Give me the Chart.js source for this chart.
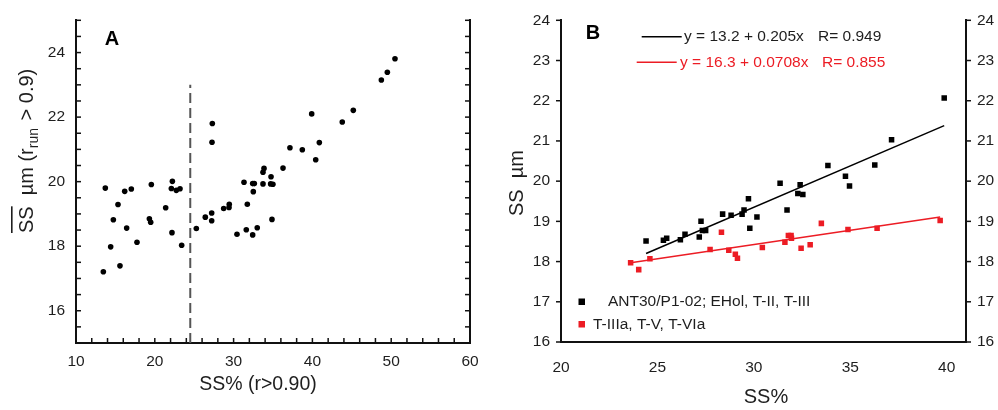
<!DOCTYPE html>
<html><head><meta charset="utf-8">
<script src="https://cdn.jsdelivr.net/npm/chart.js@4/dist/chart.umd.min.js"></script>
<style>
html,body{margin:0;padding:0;background:#fff;}
#wrap{position:relative;width:998px;height:410px;overflow:hidden;}
#ca{position:absolute;left:0;top:0;}
#cb{position:absolute;left:500px;top:0;}
</style></head><body>
<div id="wrap"><canvas id="ca" width="500" height="410"></canvas><canvas id="cb" width="498" height="410"></canvas></div>
<script>
// ---------- Panel A data ----------
const aX = [13.72,13.47,14.40,14.74,15.33,15.58,16.18,16.43,17.02,17.74,19.31,19.48,19.56,21.38,22.23,22.10,22.18,22.73,23.20,23.41,
            25.27,26.41,27.22,27.22,27.30,27.26,28.74,29.42,29.45,30.43,31.32,31.61,31.74,32.42,32.63,32.50,32.42,33.00,33.73,33.73,
            33.86,34.70,34.99,34.75,34.87,36.27,37.15,38.72,39.91,40.42,40.88,43.79,45.19,48.75,49.51,50.48];
const aY = [19.80,17.21,17.98,18.82,19.29,17.39,19.70,18.56,19.77,18.12,18.85,18.74,19.91,19.19,20.01,19.79,18.42,19.73,19.78,18.03,
            18.55,18.90,19.03,18.79,21.80,21.22,19.17,19.20,19.30,18.37,19.98,18.51,19.30,19.94,19.94,19.69,18.35,18.57,19.93,20.29,
            20.41,19.93,19.92,20.15,18.83,20.42,21.05,20.99,22.10,20.68,21.21,21.85,22.21,23.15,23.39,23.81];
const aDividerX = [24.5, 24.5];
const aDividerY = [15, 23];
const aXTicks = [10,20,30,40,50,60];
const aYTicks = [16,18,20,22,24];

// ---------- Panel B data ----------
const bBlackX = [24.41,25.31,25.48,26.19,26.43,27.17,27.26,27.33,27.50,28.38,28.82,29.39,29.49,29.72,29.79,30.16,31.36,31.72,32.28,32.40,32.54,33.84,34.75,34.96,36.27,37.14,39.87];
const bBlackY = [18.51,18.53,18.58,18.54,18.68,18.61,19.00,18.77,18.77,19.18,19.15,19.18,19.28,19.56,18.83,19.11,19.95,19.28,19.69,19.91,19.67,20.39,20.12,19.88,20.40,21.03,22.07];
const bRedX = [23.61,24.03,24.61,27.73,28.32,28.70,29.04,29.15,30.44,31.61,31.79,31.93,31.95,32.45,32.92,33.50,34.88,36.39,39.66];
const bRedY = [17.97,17.80,18.07,18.30,18.73,18.28,18.18,18.08,18.35,18.48,18.65,18.65,18.58,18.33,18.42,18.95,18.80,18.83,19.02];
const bBlackFitX = [24.41, 39.87];
const bBlackFitY = [18.20, 21.38];
const bRedFitX = [23.61, 39.66];
const bRedFitY = [17.97, 19.11];
const bXTicks = [20,25,30,35,40];
const bYTicks = [16,17,18,19,20,21,22,23,24];
const bBlackLabel = 'ANT30/P1-02; EHol, T-II, T-III';
const bRedLabel = 'T-IIIa, T-V, T-VIa';
const bBlackEq = ['y = 13.2 + 0.205x', 'R= 0.949'];
const bRedEq = ['y = 16.3 + 0.0708x', 'R= 0.855'];

const FAM = '"Liberation Sans", Arial, sans-serif';
const TXT = '#1e1e1e';
const RED = '#ec1c24';
const pts = (xs, ys) => xs.map((x, i) => ({x, y: ys[i]}));
const setTicks = arr => s => { s.ticks = arr.map(v => ({value: v})); };

function line(ctx, x1, y1, x2, y2, w, c) {
  ctx.save(); ctx.strokeStyle = c; ctx.lineWidth = w; ctx.beginPath();
  ctx.moveTo(x1, y1); ctx.lineTo(x2, y2); ctx.stroke(); ctx.restore();
}

// ---------- Panel A ----------
const plugA = {
  id: 'plugA',
  afterDraw(chart) {
    const ctx = chart.ctx, ca = chart.chartArea;
    const sx = chart.scales.x, sy = chart.scales.y;
    // inward ticks
    for (let v = 10; v <= 60; v += 2) { const p = sx.getPixelForValue(v); line(ctx, p, ca.bottom, p, ca.bottom - 5, 1.5, '#111'); }
    for (let v = 15; v <= 25; v += 0.5) {
      const p = sy.getPixelForValue(v);
      line(ctx, ca.left, p, ca.left + 5, p, 1.5, '#111');
      line(ctx, ca.right, p, ca.right - 5, p, 1.5, '#111');
    }
    ctx.save();
    ctx.fillStyle = '#000';
    ctx.font = 'bold 20px ' + FAM; ctx.textAlign = 'center'; ctx.textBaseline = 'middle';
    ctx.fillText('A', 112, 39);
    // x title
    ctx.fillStyle = TXT;
    ctx.font = '19.5px ' + FAM;
    ctx.fillText('SS% (r>0.90)', 258, 385);
    // y title (rotated) with overline and subscript
    ctx.translate(33, 233);
    ctx.rotate(-Math.PI / 2);
    ctx.textAlign = 'left'; ctx.textBaseline = 'alphabetic';
    const f = '20px ' + FAM, fs = '14px ' + FAM;
    let x = 0;
    ctx.font = f;
    ctx.fillText('SS', x, 0);
    const wSS = ctx.measureText('SS').width;
    ctx.fillRect(x, -22, wSS, 1.6);
    x += wSS + 11;
    ctx.fillText('\u00B5m (r', x, 0); x += ctx.measureText('\u00B5m (r').width;
    ctx.font = fs; ctx.fillText('run', x, 5); x += ctx.measureText('run').width + 2;
    ctx.font = f; ctx.fillText(' > 0.9)', x, 0);
    ctx.restore();
  }
};

new Chart(document.getElementById('ca'), {
  type: 'scatter',
  data: { datasets: [
    { data: pts(aX, aY), pointRadius: 2.8, pointBackgroundColor: '#000', pointBorderWidth: 0, showLine: false },
    { data: pts(aDividerX, aDividerY), showLine: true, pointRadius: 0, borderColor: '#555', borderWidth: 2, borderDash: [10, 5] }
  ]},
  options: {
    responsive: false, animation: false, events: [],
    layout: { padding: { top: 16, left: 0, right: 0, bottom: 0 } },
    plugins: { legend: { display: false }, tooltip: { enabled: false } },
    scales: {
      x: { type: 'linear', min: 10, max: 60, afterBuildTicks: setTicks(aXTicks), afterFit: s => { s.height = 67; },
           grid: { display: false, drawTicks: false }, border: { display: true, color: '#111', width: 2 },
           ticks: { padding: 9, color: TXT, font: { size: 15.5, family: FAM }, maxRotation: 0, autoSkip: false } },
      y: { type: 'linear', min: 15, max: 25, afterBuildTicks: setTicks(aYTicks), afterFit: s => { s.width = 76; },
           grid: { display: false, drawTicks: false }, border: { display: true, color: '#111', width: 2 },
           ticks: { padding: 11, color: TXT, font: { size: 15.5, family: FAM }, autoSkip: false } },
      y2: { type: 'linear', position: 'right', min: 15, max: 25, afterFit: s => { s.width = 30; },
            grid: { display: false, drawTicks: false }, border: { display: true, color: '#111', width: 2 },
            ticks: { display: false } }
    }
  },
  plugins: [plugA]
});

// ---------- Panel B ----------
const plugB = {
  id: 'plugB',
  afterDraw(chart) {
    const ctx = chart.ctx, ca = chart.chartArea;
    const sy = chart.scales.y;
    for (const v of bYTicks) {
      const p = sy.getPixelForValue(v);
      line(ctx, ca.left, p, ca.left - 5, p, 1.5, '#111');
      line(ctx, ca.right, p, ca.right + 5, p, 1.5, '#111');
    }
    ctx.save();
    ctx.fillStyle = '#000';
    ctx.font = 'bold 20px ' + FAM; ctx.textAlign = 'center'; ctx.textBaseline = 'middle';
    ctx.fillText('B', 93, 33);
    // equation legend
    ctx.font = '15.5px ' + FAM; ctx.textAlign = 'left';
    line(ctx, 141.7, 36.7, 181.7, 36.7, 1.5, '#000');
    ctx.fillStyle = TXT;
    ctx.fillText(bBlackEq[0], 184, 37); ctx.fillText(bBlackEq[1], 318, 37);
    line(ctx, 136.7, 62.3, 176.7, 62.3, 1.5, RED);
    ctx.fillStyle = RED;
    ctx.fillText(bRedEq[0], 180, 63); ctx.fillText(bRedEq[1], 322, 63);
    // series legend
    ctx.fillStyle = '#000'; ctx.fillRect(78.5, 298.5, 6.5, 6.5);
    ctx.fillStyle = TXT; ctx.fillText(bBlackLabel, 108, 302);
    ctx.fillStyle = RED; ctx.fillRect(78.5, 321, 6.5, 6.5);
    ctx.fillStyle = TXT; ctx.fillText(bRedLabel, 93, 324.5);
    // axis titles
    ctx.font = '20px ' + FAM; ctx.textAlign = 'center';
    ctx.fillText('SS%', 266, 397);
    ctx.translate(17, 183);
    ctx.rotate(-Math.PI / 2);
    ctx.fillText('SS  \u00B5m', 0, 0);
    ctx.restore();
  }
};

new Chart(document.getElementById('cb'), {
  type: 'scatter',
  data: { datasets: [
    { data: pts(bBlackX, bBlackY), pointStyle: 'rect', pointRadius: 3.9, pointBackgroundColor: '#000', pointBorderWidth: 0, showLine: false },
    { data: pts(bRedX, bRedY), pointStyle: 'rect', pointRadius: 3.9, pointBackgroundColor: RED, pointBorderWidth: 0, showLine: false },
    { data: pts(bBlackFitX, bBlackFitY), showLine: true, pointRadius: 0, borderColor: '#000', borderWidth: 1.5 },
    { data: pts(bRedFitX, bRedFitY), showLine: true, pointRadius: 0, borderColor: RED, borderWidth: 1.5 }
  ]},
  options: {
    responsive: false, animation: false, events: [],
    layout: { padding: { top: 18, left: 0, right: 0, bottom: 0 } },
    plugins: { legend: { display: false }, tooltip: { enabled: false } },
    scales: {
      x: { type: 'linear', min: 20, max: 41, afterBuildTicks: setTicks(bXTicks), afterFit: s => { s.height = 68; },
           grid: { display: false, drawTicks: false }, border: { display: true, color: '#111', width: 2 },
           ticks: { padding: 16, color: TXT, font: { size: 15.5, family: FAM }, maxRotation: 0, autoSkip: false } },
      y: { type: 'linear', min: 16, max: 24, afterBuildTicks: setTicks(bYTicks), afterFit: s => { s.width = 61; },
           grid: { display: false, drawTicks: false }, border: { display: true, color: '#111', width: 2 },
           ticks: { padding: 11, color: TXT, font: { size: 15.5, family: FAM }, autoSkip: false } },
      y2: { type: 'linear', position: 'right', min: 16, max: 24, afterBuildTicks: setTicks(bYTicks), afterFit: s => { s.width = 32; },
            grid: { display: false, drawTicks: false }, border: { display: true, color: '#111', width: 2 },
            ticks: { padding: 11, color: TXT, font: { size: 15.5, family: FAM }, autoSkip: false } }
    }
  },
  plugins: [plugB]
});
</script>
</body></html>
